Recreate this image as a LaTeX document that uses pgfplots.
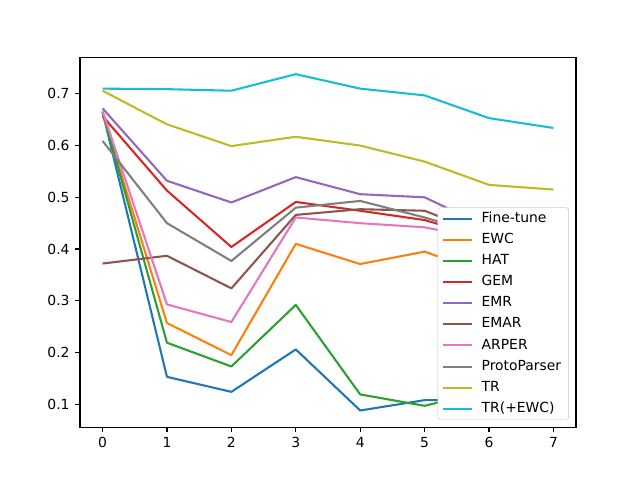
\documentclass[border=0pt]{standalone}
\usepackage{fontspec}
\setmainfont{DejaVu Sans}
\usepackage{pgfplots}
\pgfplotsset{compat=1.18}
\definecolor{c0}{HTML}{1F77B4}
\definecolor{c1}{HTML}{FF7F0E}
\definecolor{c2}{HTML}{2CA02C}
\definecolor{c3}{HTML}{D62728}
\definecolor{c4}{HTML}{9467BD}
\definecolor{c5}{HTML}{8C564B}
\definecolor{c6}{HTML}{E377C2}
\definecolor{c7}{HTML}{7F7F7F}
\definecolor{c8}{HTML}{BCBD22}
\definecolor{c9}{HTML}{17BECF}
\definecolor{lgray}{HTML}{CCCCCC}
\begin{document}
\begin{tikzpicture}[x=1pt,y=1pt]
\path[use as bounding box] (0,0) rectangle (460.8,345.6);
\begin{axis}[
  at={(57.6pt,38.016pt)}, anchor=south west,
  scale only axis, width=357.12pt, height=266.112pt,
  xmin=-0.35, xmax=7.35, ymin=0.0557, ymax=0.7700,
  xtick={0,1,2,3,4,5,6,7},
  ytick={0.1,0.2,0.3,0.4,0.5,0.6,0.7},
  yticklabel style={/pgf/number format/fixed, /pgf/number format/precision=1, /pgf/number format/fixed zerofill, xshift=-0.5pt},
  /pgf/number format/assume math mode=true,
  tick pos=left, tick align=outside,
  major tick length=3.5pt,
  every tick/.style={line width=0.8pt, black},
  axis line style={line width=0.8pt},
  tick label style={font=\fontsize{10}{12}\selectfont},
  xticklabel style={yshift=-0.5pt},
  every axis plot/.append style={line width=1.5pt, line join=round},
  legend cell align=left,
  legend image code/.code={\draw[#1] (0pt,0pt) -- (21pt,0pt);},
  legend style={at={(0.986,0.019)}, anchor=south east,
    draw=lgray, fill=white, rounded corners=2pt,
    font=\fontsize{10}{12}\selectfont,
    inner xsep=3pt, inner ysep=1pt, row sep=1.2pt, column sep=3.5pt,
    nodes={text height=7.6pt, text depth=2.4pt, inner ysep=2pt, inner xsep=2.5pt}},
]
\addplot[c0] coordinates {(0,0.665) (1,0.153) (2,0.124) (3,0.206) (4,0.088) (5,0.108) (6,0.108) (7,0.148)};
\addlegendentry{Fine-tune}
\addplot[c1] coordinates {(0,0.662) (1,0.257) (2,0.195) (3,0.410) (4,0.371) (5,0.395) (6,0.350) (7,0.370)};
\addlegendentry{EWC}
\addplot[c2] coordinates {(0,0.665) (1,0.219) (2,0.173) (3,0.292) (4,0.119) (5,0.097) (6,0.128) (7,0.153)};
\addlegendentry{HAT}
\addplot[c3] coordinates {(0,0.657) (1,0.513) (2,0.404) (3,0.491) (4,0.474) (5,0.456) (6,0.420) (7,0.388)};
\addlegendentry{GEM}
\addplot[c4] coordinates {(0,0.672) (1,0.532) (2,0.490) (3,0.539) (4,0.506) (5,0.500) (6,0.441) (7,0.433)};
\addlegendentry{EMR}
\addplot[c5] coordinates {(0,0.372) (1,0.387) (2,0.324) (3,0.466) (4,0.477) (5,0.474) (6,0.425) (7,0.388)};
\addlegendentry{EMAR}
\addplot[c6] coordinates {(0,0.667) (1,0.293) (2,0.259) (3,0.461) (4,0.450) (5,0.442) (6,0.418) (7,0.421)};
\addlegendentry{ARPER}
\addplot[c7] coordinates {(0,0.609) (1,0.450) (2,0.377) (3,0.480) (4,0.493) (5,0.461) (6,0.425) (7,0.421)};
\addlegendentry{ProtoParser}
\addplot[c8] coordinates {(0,0.706) (1,0.641) (2,0.599) (3,0.617) (4,0.600) (5,0.569) (6,0.524) (7,0.515)};
\addlegendentry{TR}
\addplot[c9] coordinates {(0,0.710) (1,0.709) (2,0.706) (3,0.738) (4,0.710) (5,0.697) (6,0.653) (7,0.634)};
\addlegendentry{TR(+EWC)}
\end{axis}
\end{tikzpicture}
\end{document}
